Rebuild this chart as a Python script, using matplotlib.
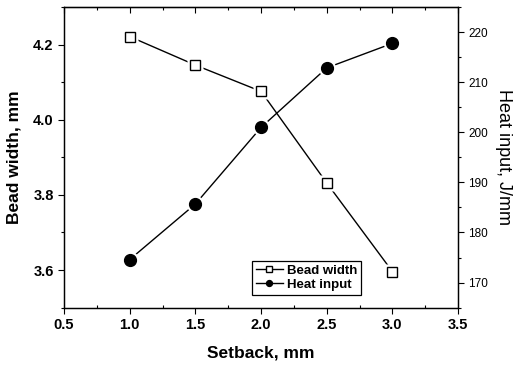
import matplotlib
matplotlib.use("Agg")
import matplotlib.pyplot as plt
from matplotlib.ticker import MultipleLocator

plt.rcParams['font.family'] = ['Liberation Sans', 'DejaVu Sans']

setback = [1.0, 1.5, 2.0, 2.5, 3.0]
bead_width = [4.222, 4.146, 4.076, 3.832, 3.596]
heat_input = [174.6, 185.7, 201.0, 212.9, 217.8]

fig = plt.figure(figsize=(5.17, 3.67), dpi=100)
ax = fig.add_axes([0.124, 0.162, 0.762, 0.818])
ax2 = ax.twinx()

# lines with markers (used for the legend), white halos for the gaps, markers on top
l1, = ax.plot(setback, bead_width, '-', color='black', lw=1.0, marker='s',
              ms=7.5, mfc='white', mec='black', mew=1.0, label='Bead width', zorder=2)
ax.plot(setback, bead_width, ls='none', marker='s', ms=12, mfc='white', mec='none', zorder=3)
ax.plot(setback, bead_width, ls='none', marker='s', ms=7.5, mfc='white', mec='black',
        mew=1.0, zorder=4)

l2, = ax2.plot(setback, heat_input, '-', color='black', lw=1.0, marker='o',
               ms=8.5, mfc='black', mec='black', label='Heat input', zorder=2)
ax2.plot(setback, heat_input, ls='none', marker='o', ms=12.5, mfc='white', mec='none', zorder=3)
ax2.plot(setback, heat_input, ls='none', marker='o', ms=8.5, mfc='black', mec='black', zorder=4)

ax.set_xlim(0.5, 3.5)
ax.set_ylim(3.5, 4.3)
ax2.set_ylim(165, 225)

ax.xaxis.set_major_locator(MultipleLocator(0.5))
ax.xaxis.set_minor_locator(MultipleLocator(0.25))
ax.yaxis.set_major_locator(MultipleLocator(0.2))
ax.yaxis.set_minor_locator(MultipleLocator(0.1))
ax2.yaxis.set_major_locator(MultipleLocator(10))
ax2.yaxis.set_minor_locator(MultipleLocator(5))

ax.tick_params(axis='x', which='major', direction='out', length=4, width=0.8)
ax.tick_params(axis='x', which='minor', direction='in', length=2.5, width=0.8)
ax.tick_params(axis='y', which='major', direction='out', length=4, width=0.8)
ax.tick_params(axis='y', which='minor', direction='out', length=2, width=0.8)
ax2.tick_params(axis='y', which='major', direction='out', length=4, width=0.8,
                labelsize=8.5)
ax2.tick_params(axis='y', which='minor', direction='out', length=2, width=0.8)

top = ax.secondary_xaxis('top')
top.xaxis.set_major_locator(MultipleLocator(0.5))
top.xaxis.set_minor_locator(MultipleLocator(0.25))
top.tick_params(which='major', direction='in', length=4, width=0.8, labeltop=False)
top.tick_params(which='minor', direction='in', length=2.5, width=0.8)

for lab in ax.get_xticklabels() + ax.get_yticklabels():
    lab.set_fontweight('bold')
    lab.set_fontsize(10.5)

ax.set_xlabel('Setback, mm', fontsize=12.5, fontweight='bold', labelpad=10)
ax.set_ylabel('Bead width, mm', fontsize=12.5, fontweight='bold', labelpad=8)
ax2.set_ylabel('Heat input, J/mm', fontsize=13, rotation=270, labelpad=17)

for sp in list(ax.spines.values()) + list(ax2.spines.values()):
    sp.set_linewidth(0.9)

leg = ax.legend(handles=[l1, l2], loc='lower right', bbox_to_anchor=(0.77, 0.02),
                frameon=True, fancybox=False, edgecolor='black', framealpha=1,
                handlelength=2.0, handletextpad=0.3, borderpad=0.3,
                labelspacing=0.15, markerscale=0.5,
                prop={'weight': 'bold', 'size': 9.5})
leg.get_frame().set_linewidth(0.9)
leg.set_zorder(10)

fig.savefig('out.png', dpi=100)
